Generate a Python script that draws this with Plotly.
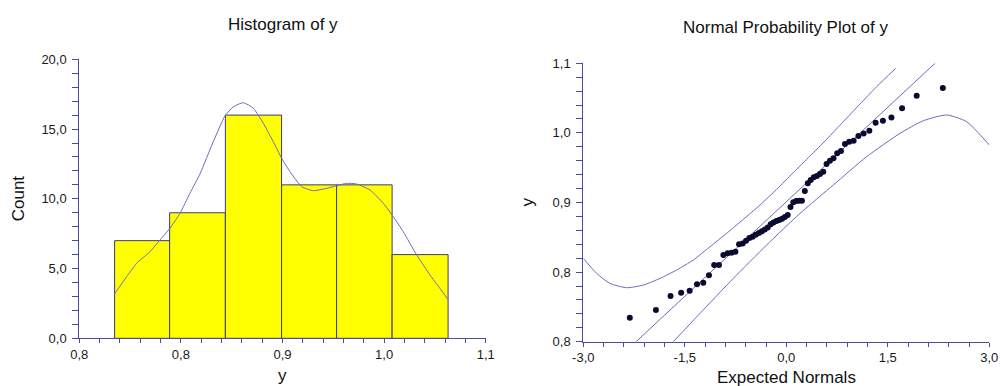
import plotly.graph_objects as go

# ---------------- Histogram of y ----------------
bin_edges = [0.7804, 0.8278, 0.8758, 0.9242, 0.9716, 1.0194, 1.0676]
bin_counts = [7, 9, 16, 11, 11, 6]

# smoothed density, scaled to counts
density_x = [0.7801, 0.7908, 0.7994, 0.8109, 0.8195, 0.8281, 0.8367, 0.8453,
             0.8540, 0.8654, 0.8755, 0.8827, 0.8913, 0.8999, 0.9085, 0.9171,
             0.9243, 0.9315, 0.9415, 0.9515, 0.9631, 0.9717, 0.9803, 0.9889,
             1.0004, 1.0118, 1.0204, 1.0290, 1.0406, 1.0520, 1.0606, 1.0678]
density_count = [3.15, 4.42, 5.38, 6.21, 7.05, 7.89, 8.96, 10.40,
                 11.80, 14.10, 15.95, 16.60, 16.89, 16.49, 15.41, 14.09,
                 12.90, 11.94, 10.87, 10.58, 10.75, 10.94, 11.11, 11.06,
                 10.63, 9.68, 8.72, 7.64, 5.97, 4.54, 3.58, 2.75]

# ---------------- Normal probability plot of y ----------------
expected_normals = [-2.313, -1.927, -1.711, -1.554, -1.428, -1.320, -1.227, -1.143,
                    -1.066, -0.995, -0.930, -0.867, -0.808, -0.752, -0.698, -0.645,
                    -0.595, -0.546, -0.498, -0.452, -0.406, -0.361, -0.318, -0.274,
                    -0.231, -0.189, -0.146, -0.104, -0.062, -0.021, 0.021, 0.062,
                    0.104, 0.146, 0.189, 0.231, 0.274, 0.318, 0.361, 0.406,
                    0.452, 0.498, 0.546, 0.595, 0.645, 0.698, 0.752, 0.808,
                    0.867, 0.930, 0.995, 1.066, 1.143, 1.227, 1.320, 1.428,
                    1.554, 1.711, 1.927, 2.313]
y_sorted = [0.7802, 0.7898, 0.8074, 0.8116, 0.8141, 0.8221, 0.8242, 0.8334,
            0.8464, 0.8464, 0.8590, 0.8611, 0.8619, 0.8632, 0.8724, 0.8736,
            0.8770, 0.8803, 0.8820, 0.8845, 0.8866, 0.8887, 0.8912, 0.8937,
            0.8975, 0.9000, 0.9017, 0.9030, 0.9046, 0.9067, 0.9092, 0.9193,
            0.9252, 0.9269, 0.9273, 0.9273, 0.9394, 0.9491, 0.9533, 0.9566,
            0.9583, 0.9608, 0.9637, 0.9734, 0.9776, 0.9805, 0.9868, 0.9897,
            0.9985, 1.0014, 1.0027, 1.0086, 1.0119, 1.0153, 1.0254, 1.0279,
            1.0318, 1.0434, 1.0593, 1.0688]

fit_z = [-2.220, 2.197]
fit_y = [0.750, 1.100]

upper_z = [-3.000, -2.803, -2.606, -2.360, -2.113, -1.867, -1.621, -1.374, -1.128, -0.882,
           -0.635, -0.389, -0.143, 0.103, 0.350, 0.596, 0.842, 1.089, 1.335, 1.616]
upper_y = [0.8548, 0.8359, 0.8233, 0.8179, 0.8212, 0.8296, 0.8401, 0.8527, 0.8694, 0.8862,
           0.9038, 0.9218, 0.9415, 0.9625, 0.9834, 1.0044, 1.0266, 1.0488, 1.0706, 1.0936]
lower_z = [-1.670, -1.276, -0.783, -0.291, 0.202, 0.695, 1.187, 1.680, 2.025, 2.369, 2.665, 3.000]
lower_y = [0.7500, 0.7856, 0.8296, 0.8715, 0.9113, 0.9470, 0.9826, 1.0119, 1.0278, 1.0350, 1.0266, 0.9973]

# ---------------- tick labels ----------------
y_ticks = [0.75, 0.8375, 0.925, 1.0125, 1.1]
y_tick_text = ["0,8", "0,8", "0,9", "1,0", "1,1"]
count_ticks = [0, 5, 10, 15, 20]
count_tick_text = ["0,0", "5,0", "10,0", "15,0", "20,0"]
z_ticks = [-3, -1.5, 0, 1.5, 3]
z_tick_text = ["-3,0", "-1,5", "0,0", "1,5", "3,0"]

W, H = 1003, 386
FONT = "Liberation Sans, Arial, sans-serif"
AXIS = "#4a4aa8"
CURVE = "#6c6cb8"
BAR_EDGE = "#3c3c78"


def fx(p):
    return p / W


def fy(p):
    return 1 - p / H


bin_centers = [(a + b) / 2 for a, b in zip(bin_edges[:-1], bin_edges[1:])]
bin_widths = [b - a for a, b in zip(bin_edges[:-1], bin_edges[1:])]

fig = go.Figure()

fig.add_trace(go.Bar(
    x=bin_centers, y=bin_counts, width=bin_widths,
    marker=dict(color="#ffff00", line=dict(color=BAR_EDGE, width=1)),
    xaxis="x", yaxis="y", hoverinfo="skip",
))
fig.add_trace(go.Scatter(
    x=density_x, y=density_count, mode="lines",
    line=dict(color=CURVE, width=1, shape="spline", smoothing=0.5),
    xaxis="x", yaxis="y", hoverinfo="skip",
))

for zs, ys in ((upper_z, upper_y), (fit_z, fit_y), (lower_z, lower_y)):
    fig.add_trace(go.Scatter(
        x=zs, y=ys, mode="lines",
        line=dict(color=CURVE, width=1, shape="spline", smoothing=0.6),
        xaxis="x2", yaxis="y2", hoverinfo="skip",
    ))

fig.add_trace(go.Scatter(
    x=expected_normals, y=y_sorted, mode="markers",
    marker=dict(color="#0a0a30", size=6, line=dict(width=0)),
    xaxis="x2", yaxis="y2", hoverinfo="skip",
))

tickfont = dict(family=FONT, size=13, color="#1a1a1a")
base = dict(showline=True, linecolor=AXIS, linewidth=1, ticks="outside",
            tickcolor=AXIS, tickwidth=1, showgrid=False, zeroline=False,
            tickfont=tickfont, tickmode="array", fixedrange=True,
            automargin=False)

fig.update_layout(
    width=W, height=H,
    margin=dict(l=0, r=0, t=0, b=0),
    paper_bgcolor="white", plot_bgcolor="white",
    showlegend=False,
    xaxis=dict(base, domain=[fx(79.3), fx(485.7)], anchor="y", range=[0.75, 1.1],
               tickvals=y_ticks, ticktext=y_tick_text, ticklen=4,
               minor=dict(ticks="outside", tick0=0.75, dtick=0.0175, ticklen=4,
                          tickcolor=AXIS, tickwidth=1)),
    yaxis=dict(base, domain=[fy(338.3), fy(59.3)], anchor="x", range=[0, 20],
               tickvals=count_ticks, ticktext=count_tick_text, ticklen=6,
               ticklabelstandoff=3,
               minor=dict(ticks="outside", tick0=0, dtick=1, ticklen=6,
                          tickcolor=AXIS, tickwidth=1)),
    xaxis2=dict(base, domain=[fx(583.3), fx(989.3)], anchor="y2", range=[-3, 3],
                tickvals=z_ticks, ticktext=z_tick_text, ticklen=4,
                minor=dict(ticks="outside", tick0=-3, dtick=0.3, ticklen=4,
                           tickcolor=AXIS, tickwidth=1)),
    yaxis2=dict(base, domain=[fy(341.7), fy(63.3)], anchor="x2", range=[0.75, 1.1],
                tickvals=y_ticks, ticktext=y_tick_text, ticklen=6,
                ticklabelstandoff=3,
                minor=dict(ticks="outside", tick0=0.75, dtick=0.0175, ticklen=6,
                           tickcolor=AXIS, tickwidth=1)),
)

title_font = dict(family=FONT, size=17, color="#111111")
texts = [
    ("Histogram of y", 282.5, 24.5, 0),
    ("Normal Probability Plot of y", 786.3, 27.5, 0),
    ("y", 282.5, 375.0, 0),
    ("Count", 18.5, 198.8, -90),
    ("Expected Normals", 786.3, 377.5, 0),
    ("y", 527.0, 202.5, -90),
]
for txt, x, y, ang in texts:
    fig.add_annotation(text=txt, x=fx(x), y=fy(y), xref="paper", yref="paper",
                       xanchor="center", yanchor="middle", showarrow=False,
                       textangle=ang, font=title_font)

fig.write_html("out.html")
